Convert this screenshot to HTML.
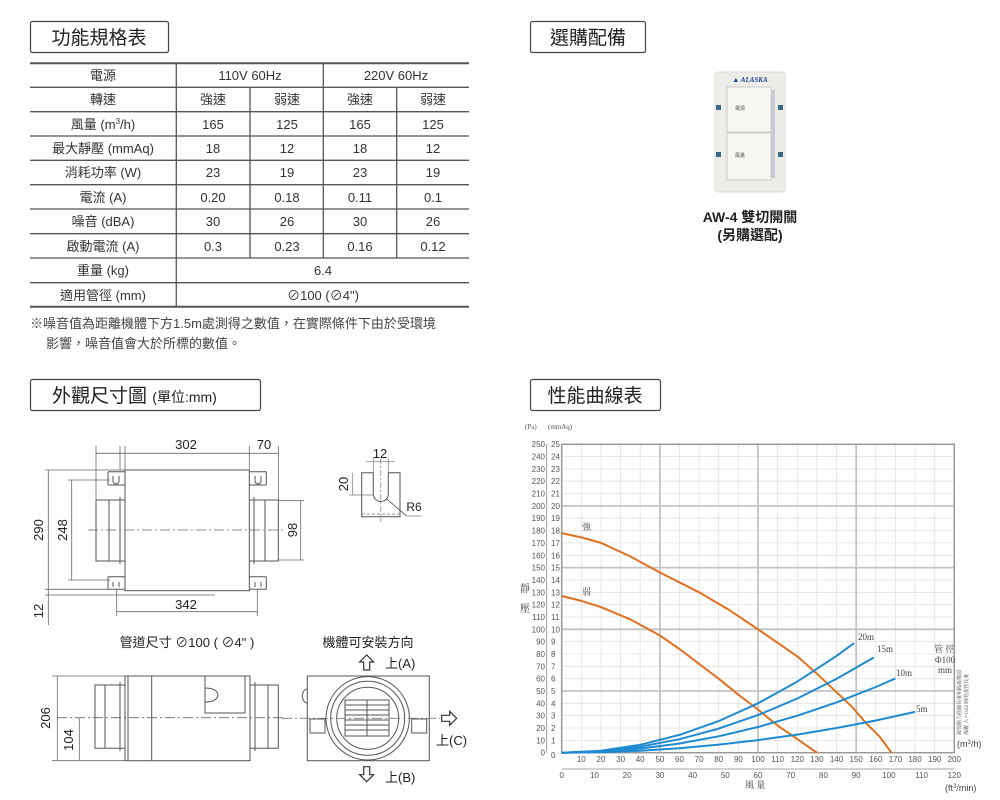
<!DOCTYPE html>
<html><head><meta charset="utf-8"><style>
html,body{margin:0;padding:0;background:#fff;}
svg{display:block;font-family:"Liberation Sans","Noto Sans CJK TC",sans-serif;}
.t{font-size:13px;fill:#333;text-anchor:middle;}
.ax{font-size:8px;fill:#555;font-family:"Liberation Sans",sans-serif;}
.dim{font-size:13px;fill:#222;text-anchor:middle;}
</style></head><body>
<svg width="1000" height="800" viewBox="0 0 1000 800" xmlns="http://www.w3.org/2000/svg">
<!-- Section titles -->
<rect x="30.5" y="21.5" width="138" height="31" rx="2" fill="#fff" stroke="#444" stroke-width="1.2"/>
<text x="99" y="44" style="font-size:19px;fill:#222;text-anchor:middle">功能規格表</text>
<rect x="530.5" y="21.5" width="115" height="31" rx="2" fill="#fff" stroke="#444" stroke-width="1.2"/>
<text x="588" y="44" style="font-size:19px;fill:#222;text-anchor:middle">選購配備</text>
<rect x="30.5" y="379.5" width="230" height="31" rx="2" fill="#fff" stroke="#444" stroke-width="1.2"/>
<text x="52" y="402" style="font-size:19px;fill:#222">外觀尺寸圖 <tspan style="font-size:14px">(單位:mm)</tspan></text>
<rect x="530.5" y="379.5" width="130" height="31" rx="2" fill="#fff" stroke="#444" stroke-width="1.2"/>
<text x="595" y="402" style="font-size:19px;fill:#222;text-anchor:middle">性能曲線表</text>

<!-- Table -->
<g stroke="#555" stroke-width="1.3">
<line x1="30" y1="63.3" x2="469" y2="63.3" stroke-width="2"/>
<line x1="30" y1="87.3" x2="469" y2="87.3"/>
<line x1="30" y1="111.7" x2="469" y2="111.7"/>
<line x1="30" y1="136" x2="469" y2="136"/>
<line x1="30" y1="160.3" x2="469" y2="160.3"/>
<line x1="30" y1="184.7" x2="469" y2="184.7"/>
<line x1="30" y1="209" x2="469" y2="209"/>
<line x1="30" y1="233.7" x2="469" y2="233.7"/>
<line x1="30" y1="258" x2="469" y2="258"/>
<line x1="30" y1="282.7" x2="469" y2="282.7"/>
<line x1="30" y1="306.7" x2="469" y2="306.7" stroke-width="2"/>
<line x1="176.3" y1="63.3" x2="176.3" y2="306.7"/>
<line x1="323.3" y1="63.3" x2="323.3" y2="258"/>
<line x1="250" y1="87.3" x2="250" y2="258"/>
<line x1="396.7" y1="87.3" x2="396.7" y2="258"/>
</g>
<g class="t">
<text x="103" y="80">電源</text><text x="250" y="80">110V 60Hz</text><text x="396" y="80">220V 60Hz</text>
<text x="103" y="104">轉速</text><text x="213" y="104">強速</text><text x="287" y="104">弱速</text><text x="360" y="104">強速</text><text x="433" y="104">弱速</text>
<text x="103" y="129">風量 (m<tspan dy="-5" style="font-size:8px">3</tspan><tspan dy="5">/h)</tspan></text><text x="213" y="129">165</text><text x="287" y="129">125</text><text x="360" y="129">165</text><text x="433" y="129">125</text>
<text x="103" y="153">最大靜壓 (mmAq)</text><text x="213" y="153">18</text><text x="287" y="153">12</text><text x="360" y="153">18</text><text x="433" y="153">12</text>
<text x="103" y="177">消耗功率 (W)</text><text x="213" y="177">23</text><text x="287" y="177">19</text><text x="360" y="177">23</text><text x="433" y="177">19</text>
<text x="103" y="202">電流 (A)</text><text x="213" y="202">0.20</text><text x="287" y="202">0.18</text><text x="360" y="202">0.11</text><text x="433" y="202">0.1</text>
<text x="103" y="226">噪音 (dBA)</text><text x="213" y="226">30</text><text x="287" y="226">26</text><text x="360" y="226">30</text><text x="433" y="226">26</text>
<text x="103" y="251">啟動電流 (A)</text><text x="213" y="251">0.3</text><text x="287" y="251">0.23</text><text x="360" y="251">0.16</text><text x="433" y="251">0.12</text>
<text x="103" y="275">重量 (kg)</text><text x="323" y="275">6.4</text>
<text x="103" y="300">適用管徑 (mm)</text><text x="323" y="300">⊘100 (⊘4")</text>
</g>
<text x="30" y="328" style="font-size:13px;fill:#444">※噪音值為距離機體下方1.5m處測得之數值，在實際條件下由於受環境</text>
<text x="46" y="348" style="font-size:13px;fill:#444">影響，噪音值會大於所標的數值。</text>

<!-- Switch -->
<rect x="715" y="72" width="70" height="120" rx="3" fill="#ecece8" stroke="#ddd"/>
<text x="750" y="82" style="font-size:7px;font-weight:bold;font-style:italic;fill:#1f3f9a;text-anchor:middle;font-family:'Liberation Serif',serif">▲ ALASKA</text>
<rect x="727" y="87" width="44" height="45" fill="#f6f6f3" stroke="#ccc"/>
<rect x="727" y="133" width="44" height="47" fill="#f6f6f3" stroke="#ccc"/>
<rect x="771" y="90" width="4" height="88" fill="#c8ccd2"/>
<text x="735" y="110" style="font-size:5px;fill:#555">電源</text>
<text x="735" y="157" style="font-size:5px;fill:#555">風量</text>
<rect x="716" y="105" width="5" height="5" fill="#3a6a8a"/><rect x="778" y="105" width="5" height="5" fill="#3a6a8a"/>
<rect x="716" y="152" width="5" height="5" fill="#3a6a8a"/><rect x="778" y="152" width="5" height="5" fill="#3a6a8a"/>
<text x="750" y="222" style="font-size:14px;font-weight:bold;fill:#222;text-anchor:middle">AW-4 雙切開關</text>
<text x="750" y="240" style="font-size:14px;font-weight:bold;fill:#222;text-anchor:middle">(另購選配)</text>

<!-- Top view drawing -->
<g fill="none" stroke="#555" stroke-width="1">
<rect x="125" y="470" width="124.3" height="120.7" fill="#fff"/>
<path d="M125 500 L96 500 L96 561 L125 561 M109 500 L109 561 M120 497 L120 564"/>
<path d="M249.3 500 L278.3 500 L278.3 561 L249.3 561 M265 500 L265 561 M254 497 L254 564"/>
<path d="M108 471.7 h17 M108 485 h17 M108 471.7 v13.3 M108 576.7 h17 M108 589.3 h17 M108 576.7 v12.6"/>
<path d="M249.3 471.7 h17 M249.3 485 h17 M266.3 471.7 v13.3 M249.3 576.7 h17 M249.3 589.3 h17 M266.3 576.7 v12.6"/>
<path d="M113 476 v5 a3 3 0 0 0 6 0 v-5 M113 582 v5 M119 582 v5 M255 476 v5 a3 3 0 0 0 6 0 v-5 M255 582 v5 M261 582 v5"/>
</g>
<g stroke="#666" stroke-width="0.8" fill="none">
<line x1="88" y1="530" x2="283" y2="530" stroke-dasharray="10 3 2 3"/>
<line x1="96" y1="453.3" x2="278.3" y2="453.3"/>
<line x1="96" y1="446" x2="96" y2="500"/><line x1="120" y1="446" x2="120" y2="470"/><line x1="125" y1="446" x2="125" y2="470"/>
<line x1="249.3" y1="446" x2="249.3" y2="470"/><line x1="278.3" y1="446" x2="278.3" y2="500"/>
<line x1="45" y1="470" x2="125" y2="470"/><line x1="45" y1="589.3" x2="108" y2="589.3"/><line x1="45" y1="595" x2="215" y2="595"/>
<line x1="48.3" y1="470" x2="48.3" y2="625"/>
<line x1="68" y1="480" x2="110" y2="480"/><line x1="68" y1="580" x2="110" y2="580"/><line x1="71.7" y1="480" x2="71.7" y2="580"/>
<line x1="278" y1="500.7" x2="304" y2="500.7"/><line x1="278" y1="560" x2="304" y2="560"/><line x1="300.7" y1="500.7" x2="300.7" y2="560"/>
<line x1="116.7" y1="611.7" x2="257.3" y2="611.7"/><line x1="116.7" y1="590" x2="116.7" y2="616"/><line x1="257.3" y1="590" x2="257.3" y2="616"/>
</g>
<text class="dim" x="186" y="449">302</text><text class="dim" x="264" y="449">70</text>
<text class="dim" x="186" y="609">342</text>
<text class="dim" transform="translate(43,530) rotate(-90)">290</text>
<text class="dim" transform="translate(67,530) rotate(-90)">248</text>
<text class="dim" transform="translate(297,530) rotate(-90)">98</text>
<text class="dim" transform="translate(43,611) rotate(-90)">12</text>

<!-- slot detail -->
<g fill="none" stroke="#555" stroke-width="1">
<path d="M361.7 472.7 V516.7 H400 V472.7 H388.3 V494 A7.5 7.5 0 0 1 373.3 494 V472.7 Z" fill="#fff"/>
</g>
<g stroke="#777" stroke-width="0.7" fill="none">
<line x1="380.8" y1="458" x2="380.8" y2="522" stroke-dasharray="6 2 2 2"/>
<line x1="366" y1="461.7" x2="395" y2="461.7"/><line x1="373.3" y1="458" x2="373.3" y2="472"/><line x1="388.3" y1="458" x2="388.3" y2="472"/>
<line x1="352.7" y1="472.7" x2="352.7" y2="495"/><line x1="349" y1="495" x2="373" y2="495"/>
<line x1="386.7" y1="499" x2="406.7" y2="516" stroke="#333"/><line x1="406.7" y1="516" x2="421.7" y2="516"/>
<line x1="362" y1="514" x2="400" y2="514" stroke-dasharray="3 2"/>
</g>
<text class="dim" x="380" y="458">12</text>
<text class="dim" transform="translate(348,484) rotate(-90)">20</text>
<text class="dim" x="414" y="511" style="font-size:12px">R6</text>

<text x="187" y="647" style="font-size:13px;fill:#222;text-anchor:middle">管道尺寸 ⊘100 ( ⊘4" )</text>
<text x="368" y="647" style="font-size:13px;fill:#222;text-anchor:middle">機體可安裝方向</text>

<!-- Side view -->
<g fill="none" stroke="#555" stroke-width="1">
<path d="M95 685 H125 V748.3 H95 Z M105 685 V748.3 M120 682 V751" fill="#fff"/>
<path d="M250 685 H278.3 V748.3 H250 Z M268 685 V748.3 M255 682 V751" fill="#fff"/>
<rect x="125" y="676" width="125" height="84.7" fill="#fff"/>
<line x1="151.7" y1="676" x2="151.7" y2="760.7"/><line x1="128" y1="676" x2="128" y2="760.7"/>
<rect x="205" y="676" width="40" height="37"/>
<path d="M205 688 q12 0 13 7 q-1 7 -13 7"/>
</g>
<g stroke="#666" stroke-width="0.8">
<line x1="57" y1="717.7" x2="285" y2="717.7" stroke-dasharray="10 3 2 3"/>
<line x1="52" y1="676" x2="125" y2="676"/><line x1="52" y1="760.7" x2="125" y2="760.7"/>
<line x1="57.3" y1="676" x2="57.3" y2="760.7"/><line x1="79.3" y1="717.7" x2="79.3" y2="760.7"/>
</g>
<text class="dim" transform="translate(50,718) rotate(-90)">206</text>
<text class="dim" transform="translate(73,740) rotate(-90)">104</text>

<!-- Front view -->
<g fill="none" stroke="#555" stroke-width="1">
<path d="M307.3 703 a5 7 0 0 1 0 -14"/>
<rect x="307.3" y="676" width="122" height="84.7" fill="#fff"/>
<circle cx="367.7" cy="718.3" r="41.7"/><circle cx="367.7" cy="718.3" r="37"/><circle cx="367.7" cy="718.3" r="31"/>
<rect x="345" y="700" width="44" height="36"/>
<path d="M345 705 h44 M345 710 h44 M345 715 h44 M345 720 h44 M345 725 h44 M345 730 h44 M367 700 v36"/>
<rect x="310" y="719" width="15" height="14"/><rect x="411.7" y="719" width="15" height="14"/>
</g>
<line x1="282" y1="718.3" x2="440" y2="718.3" stroke="#777" stroke-width="0.8" stroke-dasharray="10 3 2 3"/>
<g fill="#fff" stroke="#333" stroke-width="1.2">
<path d="M366.7 655 l-7 7 h4 v8 h6 v-8 h4 z"/>
<path d="M366.7 781.7 l-7 -7 h4 v-8 h6 v8 h4 z"/>
<path d="M456.7 718.3 l-7 -7 v4 h-8 v6 h8 v4 z"/>
</g>
<text x="385" y="668" style="font-size:13px;fill:#222">上(A)</text>
<text x="436" y="745" style="font-size:13px;fill:#222">上(C)</text>
<text x="385" y="782" style="font-size:13px;fill:#222">上(B)</text>

<!-- Chart grid -->
<g stroke="#e2e2e2" stroke-width="0.8">
<line x1="581.3" y1="444.3" x2="581.3" y2="752.7"/><line x1="601" y1="444.3" x2="601" y2="752.7"/><line x1="620.6" y1="444.3" x2="620.6" y2="752.7"/><line x1="640.2" y1="444.3" x2="640.2" y2="752.7"/>
<line x1="679.5" y1="444.3" x2="679.5" y2="752.7"/><line x1="699.1" y1="444.3" x2="699.1" y2="752.7"/><line x1="718.7" y1="444.3" x2="718.7" y2="752.7"/><line x1="738.4" y1="444.3" x2="738.4" y2="752.7"/>
<line x1="777.6" y1="444.3" x2="777.6" y2="752.7"/><line x1="797.3" y1="444.3" x2="797.3" y2="752.7"/><line x1="816.9" y1="444.3" x2="816.9" y2="752.7"/><line x1="836.5" y1="444.3" x2="836.5" y2="752.7"/>
<line x1="875.8" y1="444.3" x2="875.8" y2="752.7"/><line x1="895.4" y1="444.3" x2="895.4" y2="752.7"/><line x1="915" y1="444.3" x2="915" y2="752.7"/><line x1="934.7" y1="444.3" x2="934.7" y2="752.7"/>
<line x1="561.7" y1="740.4" x2="954.3" y2="740.4"/><line x1="561.7" y1="728" x2="954.3" y2="728"/><line x1="561.7" y1="715.7" x2="954.3" y2="715.7"/><line x1="561.7" y1="703.3" x2="954.3" y2="703.3"/>
<line x1="561.7" y1="678.7" x2="954.3" y2="678.7"/><line x1="561.7" y1="666.3" x2="954.3" y2="666.3"/><line x1="561.7" y1="654" x2="954.3" y2="654"/><line x1="561.7" y1="641.6" x2="954.3" y2="641.6"/>
<line x1="561.7" y1="617" x2="954.3" y2="617"/><line x1="561.7" y1="604.6" x2="954.3" y2="604.6"/><line x1="561.7" y1="592.3" x2="954.3" y2="592.3"/><line x1="561.7" y1="579.9" x2="954.3" y2="579.9"/>
<line x1="561.7" y1="555.3" x2="954.3" y2="555.3"/><line x1="561.7" y1="542.9" x2="954.3" y2="542.9"/><line x1="561.7" y1="530.6" x2="954.3" y2="530.6"/><line x1="561.7" y1="518.2" x2="954.3" y2="518.2"/>
<line x1="561.7" y1="493.6" x2="954.3" y2="493.6"/><line x1="561.7" y1="481.2" x2="954.3" y2="481.2"/><line x1="561.7" y1="468.9" x2="954.3" y2="468.9"/><line x1="561.7" y1="456.5" x2="954.3" y2="456.5"/>
</g>
<g stroke="#c4c4c4" stroke-width="1.8">
<line x1="659.9" y1="444.3" x2="659.9" y2="752.7"/><line x1="758" y1="444.3" x2="758" y2="752.7"/><line x1="856.2" y1="444.3" x2="856.2" y2="752.7"/>
<line x1="561.7" y1="691" x2="954.3" y2="691"/><line x1="561.7" y1="629.3" x2="954.3" y2="629.3"/><line x1="561.7" y1="567.6" x2="954.3" y2="567.6"/><line x1="561.7" y1="505.9" x2="954.3" y2="505.9"/>
</g>
<rect x="561.7" y="444.3" width="392.6" height="308.4" fill="none" stroke="#999" stroke-width="1.5"/>
<line x1="546.7" y1="444" x2="546.7" y2="752.7" stroke="#888" stroke-width="0.8"/>
<line x1="561.7" y1="769" x2="954.3" y2="769" stroke="#888" stroke-width="0.8"/>
<!-- curves -->
<g fill="none" stroke-width="2" stroke-linejoin="round">
<polyline stroke="#e07020" points="561.7,533.1 581.3,537.4 601,542.9 630.4,556.5 659.9,572.5 699.1,592.3 728.6,609.6 758,629.3 797.3,656.4 816.9,673.7 836.5,692.2 852.2,707 866,723.1 879.7,736.7 891.5,752.7"/>
<polyline stroke="#e07020" points="561.7,596 581.3,600.9 601,607.1 630.4,619.4 659.9,635.5 679.5,649 699.1,663.9 718.7,678.7 738.4,694.7 758,709.5 777.6,725.6 797.3,739.1 816.9,752.7"/>
<polyline stroke="#1e8ad0" points="561.7,752.7 601,750.7 640.2,744.8 679.5,734.9 718.7,721.1 758,703.3 797.3,681.6 836.5,655.9 854.2,643.1"/>
<polyline stroke="#1e8ad0" points="561.7,752.7 601,751.2 640.2,746.7 679.5,739.2 718.7,728.6 758,715.1 797.3,698.5 836.5,678.9 873.8,657.5"/>
<polyline stroke="#1e8ad0" points="561.7,752.7 601,751.7 640.2,748.6 679.5,743.5 718.7,736.3 758,727 797.3,715.7 836.5,702.4 875.8,687 895.4,678.5"/>
<polyline stroke="#1e8ad0" points="561.7,752.7 601,752.2 640.2,750.7 679.5,748.2 718.7,744.6 758,740.1 797.3,734.6 836.5,728 875.8,720.5 915,711.9"/>
</g>
<g class="ax">
<text x="525" y="429" style="font-size:7px;font-family:'Liberation Serif',serif">(Pa)</text><text x="548" y="429" style="font-size:7px;font-family:'Liberation Serif',serif">(mmAq)</text>
<g text-anchor="end">
<text x="545" y="755.7">0</text><text x="545" y="743.4">10</text><text x="545" y="731">20</text><text x="545" y="718.7">30</text><text x="545" y="706.3">40</text><text x="545" y="694">50</text><text x="545" y="681.7">60</text><text x="545" y="669.3">70</text><text x="545" y="657">80</text><text x="545" y="644.6">90</text><text x="545" y="632.3">100</text><text x="545" y="620">110</text><text x="545" y="607.6">120</text><text x="545" y="595.3">130</text><text x="545" y="582.9">140</text><text x="545" y="570.6">150</text><text x="545" y="558.3">160</text><text x="545" y="545.9">170</text><text x="545" y="533.6">180</text><text x="545" y="521.2">190</text><text x="545" y="508.9">200</text><text x="545" y="496.6">210</text><text x="545" y="484.2">220</text><text x="545" y="471.9">230</text><text x="545" y="459.5">240</text><text x="545" y="447.2">250</text>
</g>
<g>
<text x="551" y="758">0</text><text x="551" y="743.4">1</text><text x="551" y="731">2</text><text x="551" y="718.7">3</text><text x="551" y="706.3">4</text><text x="551" y="694">5</text><text x="551" y="681.7">6</text><text x="551" y="669.3">7</text><text x="551" y="657">8</text><text x="551" y="644.6">9</text><text x="551" y="632.3">10</text><text x="551" y="620">11</text><text x="551" y="607.6">12</text><text x="551" y="595.3">13</text><text x="551" y="582.9">14</text><text x="551" y="570.6">15</text><text x="551" y="558.3">16</text><text x="551" y="545.9">17</text><text x="551" y="533.6">18</text><text x="551" y="521.2">19</text><text x="551" y="508.9">20</text><text x="551" y="496.6">21</text><text x="551" y="484.2">22</text><text x="551" y="471.9">23</text><text x="551" y="459.5">24</text><text x="551" y="447.2">25</text>
</g>
<g text-anchor="middle">
<text x="581.3" y="762">10</text><text x="601" y="762">20</text><text x="620.6" y="762">30</text><text x="640.2" y="762">40</text><text x="659.9" y="762">50</text><text x="679.5" y="762">60</text><text x="699.1" y="762">70</text><text x="718.7" y="762">80</text><text x="738.4" y="762">90</text><text x="758" y="762">100</text><text x="777.6" y="762">110</text><text x="797.3" y="762">120</text><text x="816.9" y="762">130</text><text x="836.5" y="762">140</text><text x="856.2" y="762">150</text><text x="875.8" y="762">160</text><text x="895.4" y="762">170</text><text x="915" y="762">180</text><text x="934.7" y="762">190</text><text x="954.3" y="762">200</text>
<text x="561.7" y="778">0</text><text x="594.4" y="778">10</text><text x="627.1" y="778">20</text><text x="659.9" y="778">30</text><text x="692.6" y="778">40</text><text x="725.3" y="778">50</text><text x="758" y="778">60</text><text x="790.7" y="778">70</text><text x="823.5" y="778">80</text><text x="856.2" y="778">90</text><text x="888.9" y="778">100</text><text x="921.6" y="778">110</text><text x="954.3" y="778">120</text>
</g>
</g>
<g style="font-family:'Liberation Serif','Noto Serif CJK SC',serif;font-size:9px;fill:#444">
<text x="582" y="530">強</text><text x="582" y="595">弱</text>
<text x="520" y="592" style="font-size:10px">靜</text><text x="520" y="612" style="font-size:10px">壓</text>
<text x="858" y="640">20m</text><text x="877" y="652">15m</text><text x="896" y="676">10m</text><text x="916" y="712">5m</text>
<text x="934" y="652">管 徑</text><text x="935" y="663">Φ100</text><text x="938" y="673">mm</text>
<text x="745" y="788" style="font-size:9px">風 量</text>
<text x="957" y="747" style="font-family:'Liberation Sans',sans-serif">(m<tspan dy="-3" style="font-size:6px">3</tspan><tspan dy="3">/h)</tspan></text>
<text x="945" y="791" style="font-family:'Liberation Sans',sans-serif">(ft<tspan dy="-3" style="font-size:6px">3</tspan><tspan dy="3">/min)</tspan></text>
<text transform="translate(961,735) rotate(-90)" style="font-size:5px">風管阻力曲線長度相隔扳彎頭</text>
<text transform="translate(968,735) rotate(-90)" style="font-size:5px">係數 入＝0.02 時的曲管長度</text>
</g>
</svg>
</body></html>
